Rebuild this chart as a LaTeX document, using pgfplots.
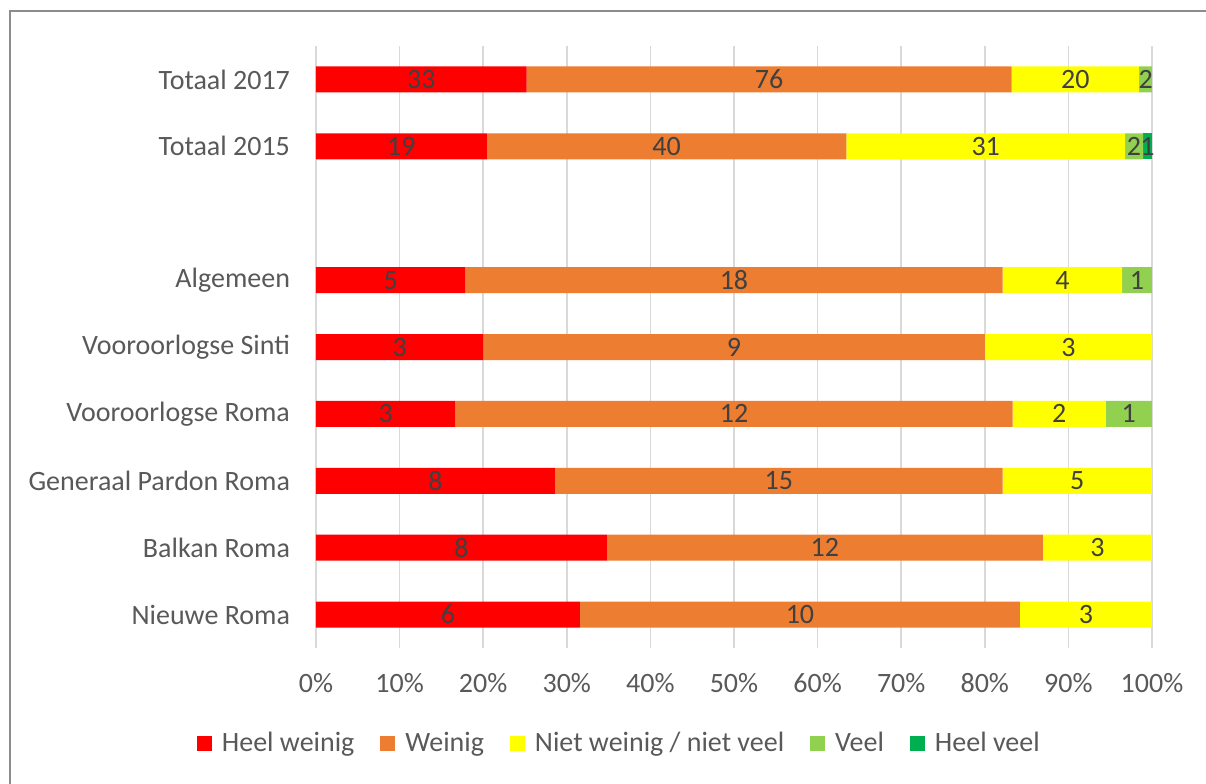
\documentclass[border=0pt]{standalone}
\usepackage{pgfplots}
\pgfplotsset{compat=1.18}
\usepackage{pgfplotstable}
\usepackage{fontspec}
\setmainfont{Carlito}
\definecolor{cRed}{HTML}{FF0000}
\definecolor{cOrange}{HTML}{ED7D31}
\definecolor{cYellow}{HTML}{FFFF00}
\definecolor{cLGreen}{HTML}{92D050}
\definecolor{cDGreen}{HTML}{00B050}
\definecolor{txt}{HTML}{595959}
\definecolor{lab}{HTML}{404040}
\definecolor{grd}{HTML}{D9D9D9}
\definecolor{frm}{HTML}{8C8C8C}

% counts per answer category; tot = row total
\pgfplotstableread{
y a b c d e tot
0 6 10 3 0 0 19
1 8 12 3 0 0 23
2 8 15 5 0 0 28
3 3 12 2 1 0 18
4 3 9 3 0 0 15
5 5 18 4 1 0 28
7 19 40 31 2 1 93
8 33 76 20 2 0 131
}\data

\pgfplotsset{
  seg/.style 2 args={
    fill=#2, draw=none,
    point meta=\thisrow{#1},
    legend image code/.code={\fill[##1] (0pt,-3.75pt) rectangle (7.5pt,3.75pt);},
  },
}

\begin{document}
\begin{tikzpicture}
\useasboundingbox (0,0) rectangle (603pt,-391.5pt);
\fill[white] (0,0) rectangle (603pt,-391.5pt);
\draw[frm, line width=1.2pt] (5pt,-400pt) -- (5pt,-5.5pt) -- (610pt,-5.5pt);
\begin{axis}[
  at={(158pt,-324pt)}, anchor=south west,
  scale only axis, width=418pt, height=301pt,
  xbar stacked, bar width=13pt,
  xmin=0, xmax=100, ymin=-0.5, ymax=8.5,
  xtick={0,10,...,100},
  ytick={0,1,2,3,4,5,7,8},
  yticklabels={Nieuwe Roma, Balkan Roma, Generaal Pardon Roma, Vooroorlogse Roma, Vooroorlogse Sinti, Algemeen, Totaal 2015, Totaal 2017},
  xticklabel={\pgfmathprintnumber{\tick}\%},
  /pgf/number format/assume math mode=true,
  xmajorgrids, ymajorgrids=false,
  grid style={grd, line width=0.75pt},
  axis line style={draw=none},
  major tick length=0pt,
  tick label style={font=\fontsize{14}{16}\selectfont, text=txt},
  xticklabel style={yshift=-9pt},
  yticklabel style={xshift=-9.5pt},
  legend columns=5,
  legend style={at={(0.364,-0.158)}, anchor=center, draw=none, fill=none,
    font=\fontsize{14}{16}\selectfont, text=txt,
    /tikz/every odd column/.append style={column sep=3pt},
    /tikz/every even column/.append style={column sep=11pt}},
  nodes near coords={\pgfmathfloatifflags{\pgfplotspointmeta}{0}{}{\pgfmathprintnumber{\pgfplotspointmeta}}},
  every node near coord/.append style={anchor=center, text=lab,
    font=\fontsize{14}{16}\selectfont},
]
\addplot[seg={a}{cRed}] table[y=y, x expr=\thisrow{a}/\thisrow{tot}*100]{\data};
\addplot[seg={b}{cOrange}] table[y=y, x expr=\thisrow{b}/\thisrow{tot}*100]{\data};
\addplot[seg={c}{cYellow}] table[y=y, x expr=\thisrow{c}/\thisrow{tot}*100]{\data};
\addplot[seg={d}{cLGreen}] table[y=y, x expr=\thisrow{d}/\thisrow{tot}*100]{\data};
\addplot[seg={e}{cDGreen}] table[y=y, x expr=\thisrow{e}/\thisrow{tot}*100]{\data};
\legend{Heel weinig, Weinig, Niet weinig / niet veel, Veel, Heel veel}
\end{axis}
\end{tikzpicture}
\end{document}
